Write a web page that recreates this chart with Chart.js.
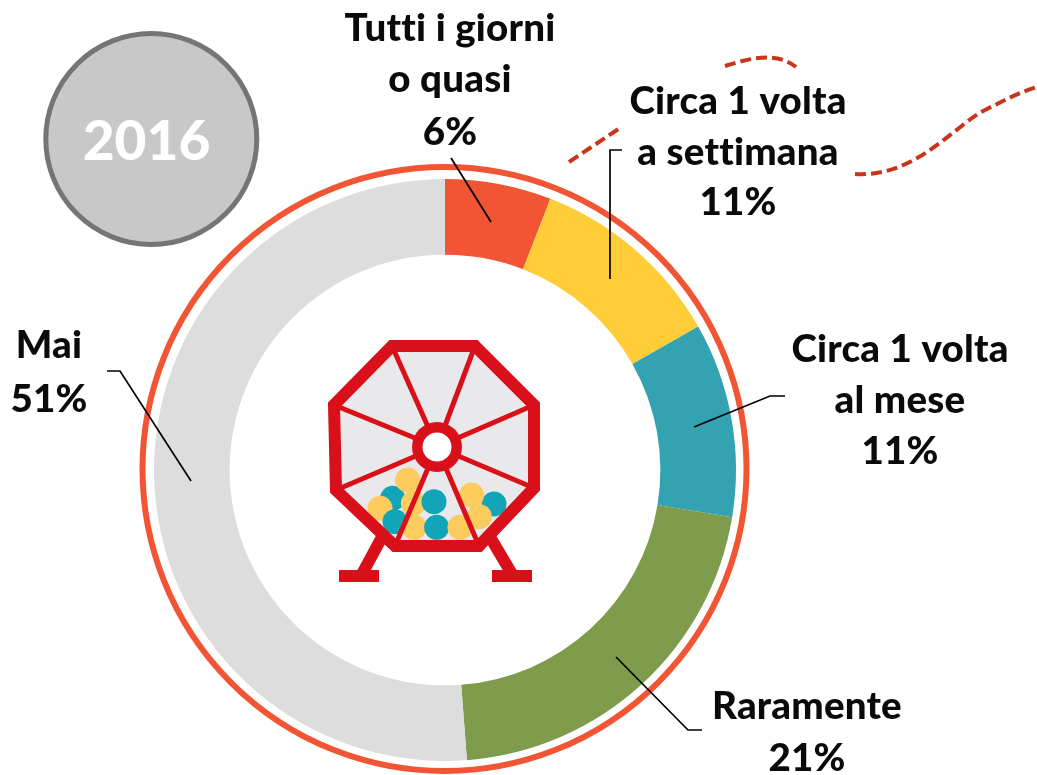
<!DOCTYPE html>
<html><head><meta charset="utf-8">
<style>html,body{margin:0;padding:0;background:#fff}#w{position:relative;width:1037px;height:775px}canvas{display:block}</style>
<script src="https://cdn.jsdelivr.net/npm/chart.js@4"></script>
</head><body><div id="w"><canvas id="c" width="1037" height="775"></canvas></div>
<script>
const categories = ["Tutti i giorni o quasi","Circa 1 volta a settimana","Circa 1 volta al mese","Raramente","Mai"];
const values = [5.9,10.9,10.8,21.2,51.2];
const sliceColors = ["#F15533","#FFCD37","#33A3B1","#7F9C4C","#DDDDDD"];
const yearLabel = "2016";
const labelLines = [["Tutti i giorni","o quasi","6%"],["Circa 1 volta","a settimana","11%"],["Circa 1 volta","al mese","11%"],["Raramente","21%"],["Mai","51%"]];
const labelX = [450,738,900,807,49];
const labelBaselines = [[41,92,145],[114,165,215],[362,413,464],[719,771],[358,412]];
const leaders = [
 [[451,158],[491,222]],
 [[622,150],[610,150],[610,279]],
 [[785,396],[770,396],[694,427]],
 [[702,730],[688,730],[616,657]],
 [[107,371],[120,371],[191,481]]
];
const FONT='900 38.5px Lato, sans-serif';
const RED='#D9101A';
function poly(x,pts,close){x.beginPath();pts.forEach((p,i)=>i?x.lineTo(p[0],p[1]):x.moveTo(p[0],p[1]));if(close)x.closePath();}
function drawIcon(x){
 const oct=[[392,346],[475,346],[534,405],[534,488],[479,546],[395,546],[336,490],[334,405]];
 const hub=[437,447];
 x.save();
 x.lineCap='butt';
 x.strokeStyle=RED;x.lineWidth=12;
 poly(x,[[382,537],[362,574]]);x.stroke();
 poly(x,[[490,537],[512,574]]);x.stroke();
 x.fillStyle=RED;x.fillRect(339,570,40,12);x.fillRect(492,570,40,12);
 poly(x,oct,true);x.fillStyle='#E9E9EC';x.fill();
 const Y='#FDCB5E',T='#12A5B8';
 [[248,535,T],[293,480,Y],[210,565,Y],[310,550,Y],[255,605,T],[312,622,Y],[372,545,T],[380,622,T],[450,622,Y],[552,552,T],[485,525,Y],[508,590,Y]]
  .forEach(b=>{x.beginPath();x.arc(310+b[0]/3,320+b[1]/3,12.5,0,Math.PI*2);x.fillStyle=b[2];x.fill();});
 x.strokeStyle=RED;x.lineWidth=5;
 oct.forEach(p=>{poly(x,[hub,p]);x.stroke();});
 x.lineWidth=12;x.lineJoin='miter';poly(x,oct,true);x.stroke();
 x.beginPath();x.arc(hub[0],hub[1],25,0,Math.PI*2);x.fillStyle=RED;x.fill();
 x.beginPath();x.arc(hub[0],hub[1],14.5,0,Math.PI*2);x.fillStyle='#fff';x.fill();
 x.restore();
}
const overlay={id:'overlay',afterDraw(ch){
 const x=ch.ctx,arc=ch.getDatasetMeta(0).data[0],cx=arc.x,cy=arc.y;
 x.save();
 x.beginPath();x.arc(cx-0.5,cy-1,302,0,Math.PI*2);x.strokeStyle='#F15533';x.lineWidth=6;x.stroke();
 x.beginPath();x.arc(151.3,139,105.5,0,Math.PI*2);x.fillStyle='#C8C8C8';x.fill();x.strokeStyle='#757575';x.lineWidth=5;x.stroke();
 x.fillStyle='#fff';x.font='900 55px Lato, sans-serif';x.textAlign='center';x.textBaseline='alphabetic';x.fillText(yearLabel,146.5,160);
 x.strokeStyle='#C8351A';x.lineWidth=4;x.setLineDash([11,5]);
 x.beginPath();x.moveTo(569,162);x.lineTo(620,128);x.stroke();
 x.beginPath();x.moveTo(725,66);x.bezierCurveTo(745,60,775,50,796,67);x.stroke();
 x.beginPath();x.moveTo(855,174);x.bezierCurveTo(915,178,955,125,985,110);x.bezierCurveTo(1005,100,1020,92,1037,87);x.stroke();
 x.setLineDash([]);
 x.strokeStyle='#000';x.lineWidth=1.7;
 leaders.forEach(l=>{poly(x,l);x.stroke();});
 drawIcon(x);
 x.fillStyle='#0A0A0A';x.font=FONT;x.textAlign='center';
 x.letterSpacing='0.2px';
 labelLines.forEach((ls,i)=>ls.forEach((t,j)=>x.fillText(t,labelX[i],labelBaselines[i][j])));
 x.restore();
}};
new Chart(document.getElementById('c'),{
 type:'doughnut',
 data:{labels:categories,datasets:[{data:values,backgroundColor:sliceColors,borderWidth:0}]},
 options:{responsive:false,animation:false,cutout:'74%',
  layout:{padding:{left:154,right:301,top:179,bottom:14}},
  plugins:{legend:{display:false},tooltip:{enabled:false}}},
 plugins:[overlay]
});
</script></body></html>
